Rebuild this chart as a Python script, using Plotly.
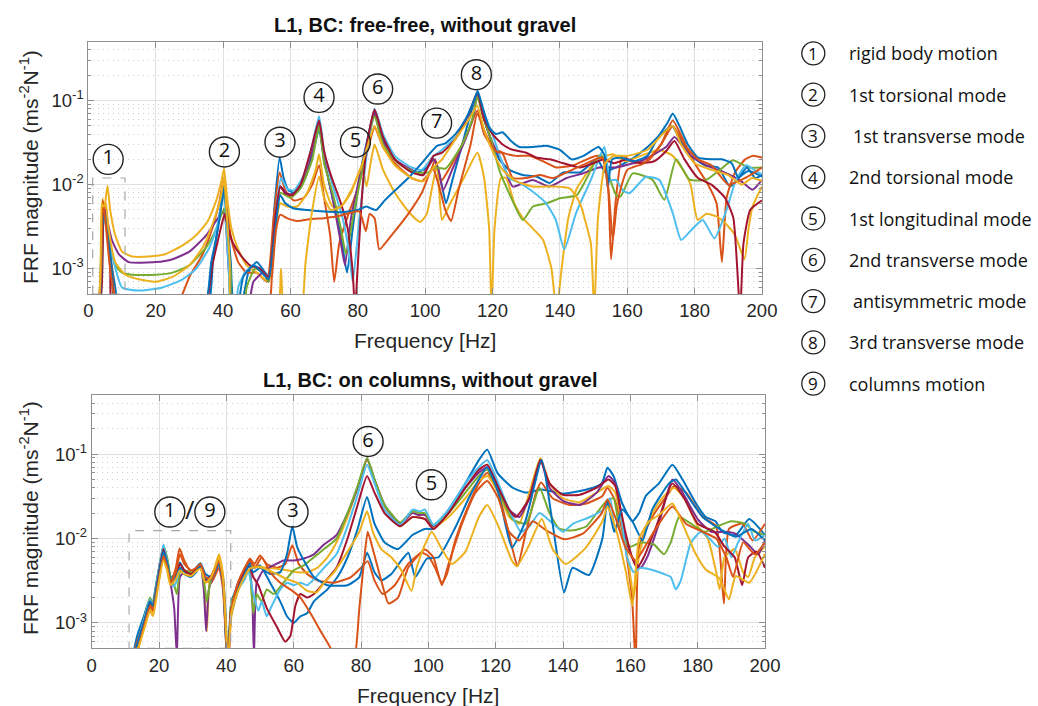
import plotly.graph_objects as go

W, H = 1038, 706

# ---------------- data: top panel (free-free), (frequency Hz, FRF magnitude) ----------------
top_blue = [(0,0.0003),(3.0,0.0004),(4.0,0.003),(4.8,0.005),(5.4,0.0042),(6.5,0.0015),(8.0,0.0006),(9.5,0.0003),(35.0,0.0003),(37.0,0.0012),(38.8,0.004),(40.3,0.0098),(41.2,0.004),(42.3,0.0012),(43.2,0.0004),(45.5,0.0004),(47.5,0.0009),(50.0,0.0012),(52.5,0.0009),(53.8,0.0008),(55.2,0.005),(56.8,0.021),(58.0,0.012),(59.5,0.0085),(61.5,0.008),(64.0,0.011),(66.5,0.022),(68.5,0.046),(70.0,0.02),(72.5,0.007),(75.0,0.0025),(76.8,0.0009),(78.5,0.003),(80.5,0.012),(82.5,0.03),(85.0,0.075),(87.0,0.04),(90.0,0.022),(94.0,0.016),(97.5,0.014),(100.5,0.016),(102.5,0.02),(104.5,0.012),(106.2,0.006),(108.0,0.011),(111.0,0.03),(113.5,0.07),(115.5,0.12),(117.0,0.07),(119.5,0.035),(122.0,0.02),(125.0,0.015),(129.0,0.013),(133.0,0.0125),(137.0,0.0105),(141.0,0.014),(146.0,0.014),(151.0,0.02),(153.5,0.014),(155.0,0.015),(158.0,0.017),(162.0,0.021),(166.0,0.028),(170.0,0.04),(173.3,0.05),(175.5,0.035),(179.0,0.022),(183.0,0.017),(187.0,0.016),(190.5,0.0095),(193.0,0.012),(196.0,0.0145),(200.0,0.0125)]
top_orange = [(0,0.0003),(3.5,0.0005),(4.2,0.006),(4.8,0.0055),(5.5,0.003),(7.0,0.001),(8.5,0.0004),(26.5,0.0004),(30.0,0.0008),(34.0,0.0015),(37.0,0.0032),(39.0,0.0065),(40.2,0.012),(41.0,0.006),(42.5,0.0022),(44.5,0.0012),(47.0,0.0009),(50.0,0.0009),(53.0,0.0007),(55.0,0.004),(56.8,0.014),(58.5,0.0085),(61.0,0.0065),(64.0,0.007),(66.5,0.01),(68.5,0.017),(70.0,0.007),(71.8,0.0025),(73.0,0.0007),(74.5,0.002),(77.0,0.0042),(80.0,0.009),(82.5,0.022),(85.0,0.048),(87.5,0.028),(91.0,0.018),(96.0,0.012),(99.0,0.011),(101.5,0.014),(103.0,0.02),(104.7,0.011),(106.5,0.014),(110.0,0.025),(113.0,0.045),(115.5,0.076),(117.5,0.04),(120.0,0.028),(123.0,0.024),(127.0,0.022),(131.0,0.022),(135.0,0.019),(139.0,0.016),(144.0,0.017),(148.0,0.02),(151.0,0.022),(153.5,0.02),(155.2,0.0013),(156.5,0.006),(158.6,0.022),(162.0,0.018),(166.0,0.019),(170.0,0.03),(173.5,0.058),(176.5,0.035),(180.0,0.018),(184.0,0.01),(186.5,0.006),(188.1,0.0012),(189.5,0.007),(192.0,0.014),(195.0,0.02),(197.2,0.022),(200.0,0.021)]
top_yellow = [(0,0.0003),(3.2,0.0005),(4.2,0.0068),(4.7,0.005),(5.7,0.0097),(6.5,0.005),(8.0,0.0025),(10.0,0.0016),(13.0,0.0014),(18.0,0.0014),(23.0,0.0015),(28.0,0.0019),(32.0,0.0025),(35.5,0.0037),(38.0,0.0065),(39.5,0.011),(40.3,0.0155),(41.2,0.007),(42.5,0.003),(44.5,0.0017),(47.0,0.0011),(50.0,0.0009),(53.5,0.0007),(55.5,0.003),(57.0,0.006),(59.0,0.0055),(62.0,0.0055),(65.0,0.008),(67.5,0.015),(68.5,0.023),(70.0,0.01),(72.5,0.0055),(75.0,0.0055),(78.0,0.008),(81.2,0.017),(82.6,0.0095),(83.8,0.018),(85.0,0.03),(87.5,0.015),(91.0,0.008),(95.0,0.0048),(98.5,0.0036),(100.5,0.0045),(102.0,0.009),(103.5,0.017),(104.2,0.008),(105.0,0.0038),(107.0,0.0055),(108.5,0.0072),(111.5,0.012),(115.5,0.024),(117.5,0.012),(119.0,0.003),(119.7,0.0003),(120.6,0.003),(122.5,0.012),(124.0,0.012),(126.5,0.006),(129.0,0.004),(132.0,0.003),(135.0,0.0022),(137.5,0.001),(139.0,0.0003),(140.5,0.001),(142.5,0.004),(145.0,0.009),(147.0,0.012),(150.0,0.018),(152.5,0.021),(155.7,0.023),(159.6,0.019),(164.0,0.022),(169.5,0.026),(173.5,0.022),(177.0,0.014),(178.8,0.01),(180.9,0.0038),(183.5,0.0045),(186.5,0.0042),(189.3,0.0034),(192.0,0.0025),(194.8,0.0013),(196.0,0.003),(197.2,0.0055),(200.0,0.0095)]
top_purple = [(0,0.0003),(3.3,0.0004),(4.3,0.004),(5.0,0.005),(5.8,0.0035),(7.0,0.0022),(9.0,0.0015),(12.0,0.0012),(20.0,0.0012),(25.0,0.0013),(30.0,0.0016),(35.0,0.0025),(37.5,0.0035),(39.5,0.0045),(40.4,0.0046),(41.2,0.002),(42.0,0.0006),(42.5,0.0003),(47.0,0.0003),(49.0,0.0007),(52.0,0.0009),(53.5,0.0007),(55.5,0.004),(57.0,0.0095),(59.0,0.0078),(61.0,0.0078),(64.0,0.012),(66.5,0.025),(68.5,0.052),(70.0,0.02),(72.5,0.007),(75.0,0.002),(76.2,0.0011),(78.0,0.004),(81.0,0.015),(83.0,0.035),(85.0,0.07),(87.0,0.035),(91.0,0.02),(96.0,0.015),(99.0,0.013),(102.5,0.02),(104.0,0.015),(105.3,0.0085),(108.0,0.015),(112.0,0.035),(114.5,0.07),(115.5,0.12),(117.0,0.07),(119.6,0.034),(123.0,0.018),(126.0,0.0095),(131.9,0.0114),(136.8,0.0095),(142.0,0.012),(146.8,0.0136),(151.7,0.016),(156.7,0.016),(164.6,0.0195),(171.5,0.028),(174.0,0.037),(178.4,0.023),(183.4,0.017),(188.0,0.0145),(193.3,0.0114),(197.2,0.0087),(200.0,0.0114)]
top_green = [(0,0.0003),(3.4,0.0004),(4.4,0.0045),(5.2,0.004),(6.2,0.002),(8.0,0.0011),(10.0,0.0009),(13.0,0.00085),(20.0,0.00085),(25.0,0.0009),(30.0,0.0011),(35.0,0.0018),(38.0,0.003),(40.3,0.0052),(41.0,0.003),(42.3,0.0009),(43.0,0.0003),(46.0,0.0003),(47.0,0.0006),(49.5,0.001),(52.0,0.0009),(53.5,0.0007),(55.5,0.0035),(57.0,0.008),(60.0,0.007),(63.0,0.009),(66.5,0.02),(68.5,0.05),(70.0,0.018),(72.5,0.008),(75.0,0.003),(76.5,0.0015),(79.0,0.005),(82.0,0.02),(85.0,0.065),(87.5,0.03),(92.0,0.018),(97.0,0.014),(101.0,0.014),(103.0,0.016),(106.0,0.0155),(111.0,0.03),(114.0,0.06),(115.5,0.11),(117.5,0.06),(119.5,0.035),(122.0,0.015),(125.0,0.0078),(129.0,0.0038),(132.0,0.0055),(136.0,0.006),(140.0,0.0069),(145.0,0.0075),(150.7,0.0195),(152.2,0.023),(154.0,0.015),(156.7,0.0075),(158.0,0.0072),(161.6,0.0136),(167.5,0.0114),(171.0,0.0066),(174.5,0.02),(178.5,0.0115),(183.4,0.0114),(187.5,0.015),(191.3,0.0195),(196.0,0.016),(200.0,0.016)]
top_cyan = [(0,0.0003),(3.2,0.0004),(4.5,0.004),(5.5,0.003),(7.0,0.0015),(10.0,0.0006),(15.0,0.00055),(22.0,0.0006),(28.0,0.00075),(32.0,0.001),(36.0,0.0018),(38.5,0.0035),(40.3,0.008),(41.0,0.003),(41.8,0.0008),(42.3,0.0003),(43.5,0.0003),(44.5,0.0006),(46.5,0.0009),(49.0,0.0011),(51.0,0.001),(53.5,0.0008),(56.0,0.006),(57.2,0.012),(59.0,0.009),(61.0,0.0085),(64.0,0.013),(66.5,0.03),(68.5,0.065),(70.0,0.025),(72.5,0.01),(75.5,0.004),(77.5,0.0015),(78.5,0.0007),(80.5,0.004),(83.0,0.03),(85.0,0.08),(87.5,0.04),(91.0,0.022),(96.0,0.016),(99.0,0.015),(102.5,0.022),(104.5,0.025),(110.0,0.04),(113.5,0.08),(115.5,0.125),(117.5,0.07),(120.0,0.04),(122.5,0.02),(125.0,0.012),(128.0,0.0105),(131.9,0.0083),(135.9,0.006),(138.8,0.0038),(141.3,0.0017),(144.8,0.0046),(149.2,0.0114),(153.2,0.028),(154.9,0.0114),(156.7,0.0114),(158.6,0.0086),(160.6,0.0079),(165.6,0.0124),(169.5,0.0114),(173.5,0.0046),(176.0,0.0022),(179.4,0.003),(182.4,0.0038),(185.9,0.0023),(189.3,0.0048),(192.3,0.0114),(195.3,0.017),(198.2,0.0145),(200.0,0.0133)]
top_darkred = [(0,0.0003),(3.5,0.0004),(4.6,0.0045),(5.3,0.004),(6.5,0.001),(7.5,0.0003),(34.0,0.0003),(37.0,0.0012),(39.3,0.003),(40.5,0.0045),(41.5,0.003),(43.0,0.002),(45.5,0.0014),(48.0,0.0011),(51.0,0.001),(53.5,0.0008),(55.5,0.004),(57.0,0.0095),(58.5,0.0078),(60.5,0.0075),(63.0,0.01),(66.0,0.025),(68.5,0.058),(70.0,0.025),(72.0,0.013),(75.0,0.006),(77.0,0.003),(78.5,0.0009),(79.2,0.0003),(79.8,0.0008),(81.5,0.01),(83.0,0.035),(85.0,0.078),(87.5,0.037),(91.0,0.02),(96.0,0.014),(99.5,0.013),(102.5,0.022),(105.0,0.024),(109.0,0.035),(113.0,0.07),(115.5,0.125),(117.5,0.06),(120.0,0.04),(123.0,0.03),(126.0,0.026),(130.0,0.024),(133.0,0.021),(137.0,0.02),(141.0,0.018),(146.0,0.016),(150.0,0.018),(153.0,0.02),(156.0,0.018),(160.0,0.02),(164.0,0.018),(168.0,0.019),(171.5,0.025),(174.0,0.033),(177.0,0.02),(181.0,0.012),(185.0,0.01),(189.0,0.007),(191.5,0.004),(193.5,0.0003),(194.5,0.002),(196.5,0.005),(200.0,0.0065)]
top_blue2 = [(0,0.0003),(3.2,0.0004),(4.3,0.0035),(5.0,0.0045),(5.8,0.003),(7.0,0.0009),(8.5,0.0003),(34.0,0.0003),(36.5,0.0012),(38.5,0.003),(40.3,0.0085),(41.2,0.004),(42.0,0.0012),(42.7,0.0003),(44.0,0.0003),(46.0,0.0008),(49.0,0.0011),(51.5,0.0009),(53.5,0.00075),(55.5,0.003),(57.0,0.0075),(58.5,0.006),(61.0,0.0052),(65.0,0.005),(70.0,0.0048),(75.0,0.0047),(80.0,0.005),(82.5,0.0055),(84.0,0.0052),(85.5,0.005),(88.0,0.0065),(91.0,0.0085),(95.0,0.012),(99.0,0.018),(102.0,0.025),(103.5,0.029),(106.0,0.031),(109.0,0.04),(112.0,0.06),(114.5,0.1),(115.6,0.13),(117.0,0.085),(119.0,0.048),(121.0,0.04),(123.0,0.042),(125.5,0.033),(128.0,0.028),(132.0,0.028),(136.0,0.029),(140.0,0.026),(143.5,0.02),(147.0,0.022),(151.5,0.028),(153.3,0.022),(154.2,0.009),(155.5,0.02),(158.0,0.021),(162.0,0.019),(166.0,0.022),(169.0,0.036),(172.0,0.055),(173.5,0.07),(175.5,0.05),(178.0,0.03),(181.0,0.021),(185.0,0.02),(188.0,0.02),(191.0,0.018),(193.0,0.012),(195.5,0.016),(198.0,0.012),(200.0,0.013)]
top_orange2 = [(0,0.0003),(3.3,0.0005),(4.3,0.0065),(5.0,0.004),(6.0,0.0015),(7.5,0.0005),(9.0,0.0003),(53.0,0.0003),(54.5,0.0008),(55.8,0.003),(57.0,0.0044),(59.0,0.004),(62.0,0.0037),(66.0,0.0039),(70.0,0.004),(74.0,0.0042),(77.5,0.0046),(80.5,0.0048),(82.4,0.0028),(83.5,0.0045),(85.0,0.004),(86.4,0.0017),(90.0,0.0025),(95.0,0.0045),(99.0,0.008),(102.2,0.016),(104.0,0.01),(106.0,0.005),(107.7,0.0037),(110.0,0.009),(113.5,0.03),(115.5,0.07),(118.0,0.04),(121.0,0.025),(123.0,0.0235),(126.0,0.012),(130.0,0.012),(134.0,0.013),(138.0,0.012),(142.0,0.014),(148.0,0.018),(152.5,0.021),(154.5,0.008),(155.7,0.0022),(157.0,0.006),(160.0,0.015),(165.0,0.018),(170.0,0.03),(173.5,0.05),(177.0,0.03),(181.0,0.02),(185.0,0.017),(190.0,0.01),(195.0,0.012),(200.0,0.016)]
top_yellow2 = [(0,0.0003),(3.0,0.0004),(4.0,0.006),(4.5,0.0055),(5.2,0.006),(6.0,0.003),(8.0,0.0012),(11.0,0.00085),(15.0,0.00075),(20.0,0.0007),(25.0,0.0008),(30.0,0.0011),(34.0,0.0018),(37.0,0.0035),(39.3,0.007),(40.3,0.012),(41.0,0.005),(42.0,0.0012),(42.8,0.0003),(56.0,0.0003),(57.2,0.001),(58.3,0.0003),(63.0,0.0003),(64.5,0.0012),(66.5,0.005),(68.5,0.0125),(70.0,0.007),(72.0,0.005),(75.0,0.0055),(78.0,0.0085),(81.0,0.016),(83.0,0.03),(85.0,0.05),(87.5,0.028),(91.0,0.017),(96.0,0.012),(99.5,0.011),(102.5,0.016),(105.0,0.02),(109.0,0.035),(113.0,0.06),(115.5,0.087),(117.5,0.045),(120.0,0.025),(123.0,0.015),(127.0,0.011),(132.0,0.0095),(138.0,0.0095),(143.0,0.009),(146.0,0.006),(147.7,0.0035),(149.2,0.002),(150.2,0.0003),(151.3,0.004),(153.5,0.018),(156.0,0.022),(160.0,0.022),(166.0,0.026),(171.0,0.042),(173.5,0.05),(176.0,0.03),(180.0,0.018),(185.0,0.015),(190.0,0.013),(194.0,0.01),(197.0,0.012),(200.0,0.011)]

# ---------------- data: bottom panel (on columns) ----------------
bot_blue = [(11.5,0.0003),(13.5,0.0007),(15.5,0.0012),(17.2,0.0019),(18.0,0.0017),(19.5,0.0035),(21.3,0.0078),(22.5,0.0055),(23.5,0.0035),(25.0,0.0038),(26.2,0.0052),(27.5,0.0042),(29.5,0.0038),(31.0,0.0045),(32.3,0.0051),(33.8,0.0038),(35.5,0.0035),(37.8,0.0052),(39.0,0.0035),(39.8,0.0012),(40.4,0.0003),(41.5,0.0018),(43.5,0.0028),(45.5,0.0042),(46.8,0.0055),(48.0,0.0045),(50.0,0.0048),(53.0,0.003),(56.0,0.0018),(58.0,0.0012),(60.0,0.001),(62.0,0.0012),(64.0,0.0013),(66.0,0.0018),(70.0,0.0025),(73.0,0.0035),(76.0,0.006),(79.0,0.013),(81.8,0.031),(84.0,0.015),(87.0,0.009),(91.0,0.0075),(95.3,0.011),(99.0,0.013),(101.5,0.013),(106.0,0.022),(111.0,0.045),(115.0,0.085),(117.5,0.113),(120.5,0.06),(125.0,0.04),(129.0,0.035),(133.7,0.038),(137.0,0.036),(140.0,0.034),(147.0,0.038),(151.5,0.045),(153.2,0.069),(155.0,0.055),(157.6,0.026),(160.6,0.016),(162.6,0.02),(164.6,0.032),(168.5,0.045),(172.5,0.075),(175.5,0.05),(179.5,0.026),(182.4,0.018),(185.3,0.016),(187.3,0.012),(191.3,0.011),(195.3,0.017),(200.0,0.011)]
bot_orange = [(11.5,0.0003),(13.5,0.0006),(15.5,0.001),(17.2,0.0017),(18.0,0.0015),(19.5,0.003),(21.3,0.0068),(22.5,0.0045),(23.5,0.003),(25.0,0.0045),(26.1,0.0076),(27.5,0.0055),(29.5,0.004),(31.0,0.0042),(32.3,0.0047),(33.8,0.0032),(35.5,0.003),(37.8,0.0045),(39.0,0.0025),(39.9,0.0006),(40.5,0.0003),(41.4,0.0015),(43.5,0.003),(45.5,0.0045),(47.0,0.0058),(48.3,0.005),(50.0,0.0063),(52.0,0.005),(55.0,0.0045),(57.5,0.005),(59.6,0.0083),(61.5,0.005),(64.0,0.0038),(67.0,0.0032),(72.0,0.003),(77.0,0.0035),(80.0,0.0045),(82.0,0.0054),(84.0,0.0032),(86.5,0.0022),(90.0,0.0028),(94.0,0.005),(98.0,0.0068),(100.0,0.0062),(102.0,0.0045),(104.0,0.003),(105.5,0.0038),(108.0,0.0095),(112.0,0.025),(115.0,0.045),(117.5,0.06),(120.8,0.035),(124.8,0.0081),(126.5,0.0047),(129.0,0.012),(132.0,0.035),(133.5,0.046),(136.9,0.03),(142.0,0.025),(147.0,0.026),(151.7,0.032),(153.2,0.04),(155.5,0.028),(158.5,0.008),(160.5,0.002),(161.6,0.0003),(162.6,0.008),(166.5,0.018),(171.5,0.035),(173.0,0.042),(176.5,0.035),(181.5,0.018),(185.5,0.014),(187.8,0.0017),(189.3,0.013),(193.3,0.015),(196.3,0.0095),(200.0,0.015)]
bot_yellow = [(11.8,0.0003),(13.8,0.0005),(15.8,0.001),(17.3,0.0015),(18.2,0.0013),(19.6,0.0028),(21.3,0.0062),(22.4,0.0045),(23.4,0.0028),(25.0,0.0036),(26.2,0.0045),(27.5,0.004),(29.5,0.0038),(31.0,0.0042),(32.3,0.0045),(33.5,0.0025),(34.2,0.0008),(35.0,0.003),(36.5,0.0045),(37.8,0.0065),(39.0,0.0038),(40.0,0.0007),(40.5,0.0003),(41.5,0.0012),(43.5,0.0025),(45.5,0.004),(47.0,0.0048),(49.0,0.0047),(52.0,0.0045),(55.0,0.0044),(58.0,0.0042),(61.0,0.004),(64.0,0.004),(67.0,0.0045),(70.0,0.006),(73.0,0.0095),(76.0,0.018),(79.0,0.04),(81.8,0.085),(84.0,0.05),(87.0,0.024),(91.6,0.014),(95.3,0.018),(99.0,0.017),(101.5,0.0135),(106.0,0.018),(111.0,0.03),(115.0,0.048),(117.5,0.055),(120.8,0.035),(124.0,0.018),(127.0,0.015),(130.0,0.035),(133.3,0.09),(136.0,0.045),(140.0,0.03),(145.0,0.027),(150.0,0.035),(153.5,0.042),(155.5,0.035),(157.5,0.015),(159.5,0.005),(161.0,0.002),(162.5,0.006),(165.0,0.015),(168.0,0.025),(171.0,0.035),(173.0,0.04),(176.0,0.03),(180.0,0.014),(183.0,0.01),(185.5,0.004),(186.5,0.0025),(188.0,0.006),(191.0,0.0075),(193.5,0.004),(195.0,0.0035),(197.0,0.006),(200.0,0.008)]
bot_purple = [(11.8,0.0003),(13.8,0.0006),(15.8,0.0011),(17.3,0.0018),(18.2,0.0016),(19.6,0.0033),(21.3,0.0078),(22.4,0.005),(23.4,0.003),(24.5,0.0015),(25.3,0.0004),(26.2,0.0035),(27.5,0.004),(29.5,0.0038),(31.0,0.0042),(32.3,0.0048),(33.3,0.0025),(34.0,0.0008),(34.8,0.0025),(36.0,0.0035),(37.8,0.005),(39.0,0.003),(40.0,0.0005),(40.5,0.0003),(41.5,0.0015),(43.5,0.003),(45.5,0.004),(46.8,0.0048),(47.7,0.002),(48.2,0.0004),(49.0,0.003),(51.0,0.0042),(54.0,0.0048),(57.0,0.0055),(60.0,0.0055),(63.0,0.0058),(66.0,0.0065),(69.0,0.0085),(72.7,0.011),(76.0,0.02),(79.0,0.04),(81.8,0.088),(84.0,0.05),(87.0,0.025),(91.6,0.015),(95.3,0.02),(97.0,0.019),(99.0,0.019),(101.5,0.014),(106.0,0.02),(111.0,0.04),(115.0,0.06),(117.5,0.07),(120.8,0.04),(124.0,0.022),(127.0,0.018),(130.0,0.03),(133.3,0.085),(136.0,0.04),(140.0,0.028),(145.0,0.025),(150.0,0.035),(153.5,0.055),(155.5,0.045),(158.5,0.01),(161.0,0.0055),(163.0,0.0045),(165.0,0.006),(168.5,0.015),(172.5,0.05),(175.5,0.035),(180.0,0.017),(184.0,0.012),(188.0,0.012),(191.0,0.0115),(195.0,0.0085),(198.0,0.0065),(200.0,0.0095)]
bot_green = [(11.8,0.0003),(13.8,0.0006),(15.8,0.0012),(17.3,0.002),(18.2,0.0017),(19.6,0.0035),(21.3,0.0082),(22.4,0.006),(23.4,0.0035),(24.5,0.0028),(25.3,0.0022),(26.2,0.004),(27.5,0.0042),(29.5,0.004),(31.0,0.0043),(32.3,0.0049),(33.5,0.0028),(34.2,0.0018),(35.2,0.003),(36.5,0.004),(37.8,0.0055),(39.0,0.0032),(40.0,0.0006),(40.5,0.0003),(41.4,0.0016),(43.5,0.0028),(45.5,0.0035),(46.8,0.0042),(48.0,0.0013),(49.0,0.0022),(50.5,0.0018),(52.0,0.0025),(54.0,0.0022),(57.0,0.003),(60.0,0.0042),(63.0,0.0048),(66.0,0.006),(69.0,0.0075),(72.7,0.0099),(76.0,0.02),(79.0,0.042),(81.8,0.09),(84.0,0.05),(87.0,0.025),(91.6,0.0155),(95.3,0.021),(97.5,0.02),(99.0,0.02),(101.5,0.0145),(106.0,0.02),(111.0,0.035),(115.0,0.055),(117.5,0.065),(121.0,0.035),(125.0,0.017),(129.0,0.015),(133.0,0.04),(136.0,0.02),(139.0,0.013),(143.0,0.0125),(147.0,0.014),(150.0,0.02),(153.0,0.028),(155.0,0.03),(157.0,0.012),(160.0,0.008),(163.0,0.009),(167.0,0.0085),(170.0,0.0065),(172.0,0.009),(174.5,0.018),(178.0,0.015),(182.0,0.012),(186.0,0.014),(190.0,0.016),(194.0,0.015),(197.0,0.012),(200.0,0.011)]
bot_cyan = [(11.8,0.0003),(13.8,0.0006),(15.8,0.0012),(17.3,0.0019),(18.2,0.0016),(19.6,0.0035),(21.3,0.0085),(22.4,0.0055),(23.4,0.003),(24.3,0.0027),(25.3,0.0032),(26.2,0.0045),(27.5,0.0038),(29.5,0.0036),(31.0,0.0042),(32.3,0.0046),(33.5,0.0035),(34.3,0.0032),(35.5,0.0035),(37.8,0.0052),(39.0,0.003),(40.0,0.0005),(40.5,0.0003),(41.4,0.0013),(43.5,0.0025),(45.5,0.0033),(46.5,0.0042),(48.0,0.0022),(49.5,0.0014),(50.5,0.0018),(52.0,0.0012),(53.5,0.0016),(56.0,0.0025),(58.0,0.003),(60.0,0.0028),(62.0,0.003),(64.0,0.0028),(66.0,0.0033),(69.0,0.0045),(72.7,0.0065),(76.0,0.014),(79.0,0.033),(81.8,0.075),(84.0,0.045),(87.0,0.022),(91.6,0.0145),(95.3,0.022),(97.5,0.021),(99.0,0.022),(101.5,0.0145),(106.0,0.022),(111.0,0.045),(115.0,0.07),(117.5,0.085),(120.8,0.045),(124.0,0.022),(127.5,0.012),(130.0,0.014),(133.0,0.02),(137.0,0.015),(140.0,0.012),(143.0,0.015),(148.0,0.018),(152.0,0.022),(154.0,0.03),(155.5,0.012),(157.0,0.02),(159.0,0.006),(161.0,0.004),(163.0,0.0045),(166.0,0.0043),(170.0,0.0038),(172.0,0.0035),(173.5,0.0025),(175.0,0.0032),(178.0,0.009),(181.0,0.012),(183.5,0.01),(186.0,0.008),(188.0,0.01),(190.0,0.006),(192.0,0.009),(195.0,0.015),(197.0,0.0095),(200.0,0.011)]
bot_darkred = [(11.8,0.0003),(13.8,0.0006),(15.8,0.0011),(17.3,0.0018),(18.2,0.0016),(19.6,0.0032),(21.3,0.0075),(22.4,0.005),(23.4,0.003),(25.0,0.0038),(26.2,0.005),(27.5,0.0042),(29.5,0.0038),(31.0,0.0043),(32.3,0.0049),(33.8,0.0032),(35.5,0.0036),(37.8,0.0055),(39.0,0.0032),(40.0,0.0006),(40.5,0.0003),(41.4,0.0014),(43.5,0.0028),(45.5,0.0042),(46.8,0.005),(48.0,0.0035),(49.5,0.0028),(52.0,0.0015),(55.0,0.0009),(57.5,0.0006),(59.0,0.0007),(60.5,0.0016),(62.0,0.0022),(64.0,0.002),(66.0,0.0022),(69.0,0.003),(72.7,0.0045),(76.0,0.01),(79.0,0.025),(81.8,0.055),(84.0,0.035),(87.0,0.02),(91.6,0.014),(95.3,0.018),(99.0,0.017),(101.5,0.013),(106.0,0.02),(111.0,0.04),(115.0,0.065),(117.5,0.075),(120.8,0.04),(124.0,0.022),(126.0,0.018),(130.0,0.03),(133.3,0.085),(136.0,0.045),(140.0,0.033),(145.0,0.033),(150.0,0.04),(153.5,0.05),(155.5,0.042),(158.5,0.012),(160.5,0.006),(162.0,0.0045),(164.0,0.006),(168.0,0.015),(172.5,0.045),(176.0,0.03),(180.0,0.015),(185.0,0.012),(188.0,0.008),(191.0,0.006),(193.2,0.0028),(195.0,0.006),(197.5,0.007),(200.0,0.0045)]
bot_blue2 = [(11.8,0.0003),(13.8,0.0006),(15.8,0.0011),(17.3,0.0018),(18.2,0.0016),(19.6,0.003),(21.3,0.007),(22.5,0.005),(23.5,0.0032),(25.0,0.0035),(26.2,0.0045),(27.5,0.0038),(29.5,0.0035),(31.0,0.004),(32.3,0.0048),(33.8,0.0034),(35.5,0.0033),(37.8,0.005),(39.0,0.003),(39.8,0.0008),(40.4,0.0003),(41.3,0.0012),(43.5,0.0025),(45.5,0.0038),(46.8,0.005),(48.0,0.004),(50.0,0.0045),(53.0,0.0038),(56.0,0.004),(58.0,0.0065),(59.6,0.0139),(61.0,0.008),(62.5,0.006),(66.0,0.0035),(70.0,0.0028),(76.0,0.0028),(79.5,0.0035),(81.8,0.0068),(84.0,0.004),(86.0,0.0032),(89.0,0.0038),(92.0,0.0055),(94.1,0.0068),(96.1,0.0035),(99.6,0.0058),(103.0,0.006),(108.0,0.0135),(112.0,0.03),(115.0,0.05),(117.4,0.07),(120.8,0.035),(124.8,0.0078),(128.8,0.016),(133.7,0.085),(136.9,0.015),(140.3,0.0023),(142.8,0.0045),(147.7,0.0037),(151.7,0.01),(153.2,0.028),(155.2,0.012),(157.6,0.022),(160.6,0.016),(163.6,0.0095),(166.5,0.022),(171.5,0.045),(173.5,0.05),(177.5,0.03),(181.5,0.018),(186.5,0.013),(191.3,0.0105),(196.0,0.013),(200.0,0.0095)]
bot_orange2 = [(11.8,0.0003),(13.8,0.0005),(15.8,0.001),(17.4,0.0016),(18.2,0.0014),(19.7,0.0028),(21.3,0.0062),(22.5,0.0045),(23.5,0.003),(25.0,0.004),(26.2,0.0065),(27.5,0.005),(29.5,0.0042),(31.0,0.0045),(32.3,0.005),(33.8,0.0035),(35.5,0.0033),(37.8,0.0055),(39.0,0.003),(39.9,0.0007),(40.5,0.0003),(41.4,0.0014),(43.5,0.003),(45.5,0.0045),(47.0,0.0055),(48.5,0.0045),(50.5,0.006),(53.0,0.004),(56.0,0.003),(59.0,0.0025),(62.0,0.002),(65.0,0.0013),(68.0,0.0008),(71.0,0.0005),(73.0,0.0003),(77.5,0.0003),(79.5,0.0015),(81.0,0.006),(82.0,0.012),(83.5,0.0075),(86.0,0.0032),(88.2,0.0017),(91.0,0.002),(94.0,0.0045),(99.0,0.0074),(101.5,0.006),(104.0,0.0028),(106.0,0.005),(110.0,0.015),(114.0,0.035),(117.5,0.048),(120.8,0.03),(124.0,0.012),(127.0,0.0095),(131.0,0.016),(135.0,0.0125),(140.5,0.0098),(146.0,0.0115),(151.5,0.02),(153.2,0.029),(155.5,0.018),(158.5,0.008),(161.5,0.0055),(163.5,0.007),(167.5,0.013),(172.5,0.024),(176.5,0.015),(181.5,0.012),(185.5,0.01),(188.5,0.006),(190.5,0.0035),(193.5,0.009),(197.0,0.0065),(200.0,0.009)]
bot_yellow2 = [(11.8,0.0003),(13.8,0.0005),(15.8,0.0009),(17.3,0.0014),(18.2,0.0012),(19.6,0.0025),(21.3,0.0055),(22.4,0.0042),(23.4,0.0028),(25.0,0.0033),(26.2,0.0042),(27.5,0.0038),(29.5,0.0036),(31.0,0.0041),(32.3,0.0044),(33.8,0.003),(35.5,0.0035),(37.8,0.006),(39.0,0.0035),(40.0,0.0007),(40.5,0.0003),(41.5,0.0013),(43.5,0.0024),(45.5,0.0036),(47.0,0.0044),(49.0,0.0046),(52.0,0.0043),(55.0,0.0038),(58.0,0.0033),(61.0,0.003),(64.0,0.0024),(66.8,0.0023),(69.0,0.003),(72.0,0.004),(76.0,0.007),(79.5,0.012),(81.8,0.021),(83.5,0.012),(86.0,0.0075),(89.0,0.006),(92.0,0.0042),(95.0,0.0024),(96.5,0.0045),(99.0,0.0085),(101.0,0.012),(104.0,0.0075),(107.0,0.005),(111.0,0.007),(115.0,0.018),(117.5,0.025),(120.8,0.014),(124.8,0.0055),(126.3,0.0047),(129.7,0.008),(133.7,0.017),(136.9,0.0075),(140.8,0.005),(146.8,0.0078),(151.7,0.016),(153.2,0.024),(155.7,0.013),(158.7,0.004),(160.6,0.0016),(162.6,0.01),(165.6,0.016),(168.5,0.019),(172.5,0.026),(175.5,0.015),(179.4,0.0066),(182.4,0.0043),(186.4,0.0034),(189.3,0.0019),(191.3,0.0036),(195.3,0.003),(200.0,0.0066)]

series_colors = ["#0072BD", "#D95319", "#EDB120", "#7E2F8E", "#77AC30",
                 "#4DBEEE", "#A2142F", "#0072BD", "#D95319", "#EDB120"]
top_series = [top_blue, top_orange, top_yellow, top_purple, top_green,
              top_cyan, top_darkred, top_blue2, top_orange2, top_yellow2]
bot_series = [bot_blue, bot_orange, bot_yellow, bot_purple, bot_green,
              bot_cyan, bot_darkred, bot_blue2, bot_orange2, bot_yellow2]

# mode labels in the charts (frequency, magnitude, label)
top_mode_f = [5.9, 40.4, 56.9, 68.5, 79.3, 85.9, 103.4, 115.2]
top_mode_v = [0.020, 0.0245, 0.032, 0.109, 0.032, 0.137, 0.054, 0.203]
top_mode_txt = ["1", "2", "3", "4", "5", "6", "7", "8"]
bot_mode_f = [23.2, 35.1, 59.8, 82.1, 100.9]
bot_mode_v = [0.0206, 0.0206, 0.0206, 0.141, 0.0433]
bot_mode_txt = ["1", "9", "3", "6", "5"]

mode_names = ["rigid body motion", "1st torsional mode", "1st transverse mode",
              "2nd torsional mode", "1st longitudinal mode", "2nd transverse mode",
              "antisymmetric mode", "3rd transverse mode", "columns motion"]

x_ticks = [0, 20, 40, 60, 80, 100, 120, 140, 160, 180, 200]
y_ticks = [0.001, 0.01, 0.1]
y_ticktext = ["10<sup>-3</sup>", "10<sup>-2</sup>", "10<sup>-1</sup>"]
y_minor = [m * 10.0 ** e for e in (-4, -3, -2, -1) for m in range(2, 10)]

# ---------------- figure ----------------
fig = go.Figure()
for s, c in zip(top_series, series_colors):
    fig.add_trace(go.Scatter(x=[p[0] for p in s], y=[p[1] for p in s], mode="lines",
                             line=dict(color=c, width=2, shape="spline", smoothing=0.5),
                             xaxis="x", yaxis="y", showlegend=False, hoverinfo="skip"))
for s, c in zip(bot_series, series_colors):
    fig.add_trace(go.Scatter(x=[p[0] for p in s], y=[p[1] for p in s], mode="lines",
                             line=dict(color=c, width=2, shape="spline", smoothing=0.5),
                             xaxis="x2", yaxis="y2", showlegend=False, hoverinfo="skip"))

circ_marker = dict(symbol="circle-open", size=30, color="#222222", line=dict(width=1.4, color="#222222"))
lab_font = dict(family="Open Sans, Noto Sans, sans-serif", size=20, color="#111111")
fig.add_trace(go.Scatter(x=top_mode_f, y=top_mode_v, text=top_mode_txt, mode="markers+text",
                         textposition="middle center", marker=circ_marker, textfont=lab_font,
                         xaxis="x", yaxis="y", showlegend=False, cliponaxis=False, hoverinfo="skip"))
fig.add_trace(go.Scatter(x=bot_mode_f, y=bot_mode_v, text=bot_mode_txt, mode="markers+text",
                         textposition="middle center", marker=circ_marker, textfont=lab_font,
                         xaxis="x2", yaxis="y2", showlegend=False, cliponaxis=False, hoverinfo="skip"))
fig.add_trace(go.Scatter(x=[(bot_mode_f[0] + bot_mode_f[1]) / 2], y=[bot_mode_v[0]], text=["/"],
                         mode="text", textposition="middle center",
                         textfont=dict(family="Open Sans, sans-serif", size=26, color="#222222"),
                         xaxis="x2", yaxis="y2", showlegend=False, hoverinfo="skip"))

def px(x):
    return x / W

def py(y):
    return 1 - y / H

axis_line = "#8f8f8f"
grid_major = "#e0e0e0"
grid_minor = "#cfcfcf"
tick_font = dict(family="Liberation Sans, Arial, sans-serif", size=18.5, color="#262626")

def xaxis_cfg(domain, anchor):
    return dict(domain=domain, anchor=anchor, range=[0, 200], tickmode="array", tickvals=x_ticks,
                showgrid=True, gridcolor=grid_major, gridwidth=1, zeroline=False,
                showline=True, linecolor=axis_line, linewidth=1, mirror="allticks",
                ticks="inside", ticklen=6, tickcolor=axis_line, tickfont=tick_font,
                automargin=False, fixedrange=True)

def yaxis_cfg(domain, anchor):
    return dict(domain=domain, anchor=anchor, type="log", range=[-3.3, -0.3],
                tickmode="array", tickvals=y_ticks, ticktext=y_ticktext,
                showgrid=True, gridcolor=grid_major, gridwidth=1, zeroline=False,
                showline=True, linecolor=axis_line, linewidth=1, mirror="allticks",
                ticks="inside", ticklen=6, tickcolor=axis_line, tickfont=tick_font,
                minor=dict(tickmode="array", tickvals=y_minor, ticks="inside", ticklen=3,
                           tickcolor=axis_line, showgrid=True, gridcolor=grid_minor,
                           griddash="1px,4px", gridwidth=1.3),
                automargin=False, fixedrange=True)

fig.update_layout(
    width=W, height=H, margin=dict(l=0, r=0, t=0, b=0),
    paper_bgcolor="white", plot_bgcolor="white", showlegend=False,
    xaxis=xaxis_cfg([px(88.3), px(762)], "y"),
    yaxis=yaxis_cfg([py(294), py(41.7)], "x"),
    xaxis2=xaxis_cfg([px(91.7), px(765)], "y2"),
    yaxis2=yaxis_cfg([py(648.3), py(395)], "x2"),
)

shapes = [
    dict(type="rect", xref="x", yref="y", x0=1.3, x1=10.9, y0=0.0005, y1=0.012,
         line=dict(color="#a8a8a8", width=1.2, dash="dash"), layer="above"),
    dict(type="rect", xref="x2", yref="y2", x0=11.1, x1=41.3, y0=0.0005, y1=0.0124,
         line=dict(color="#a8a8a8", width=1.2, dash="dash"), layer="above"),
]
annotations = []
title_font = dict(family="Liberation Sans, Arial, sans-serif", size=20, color="#111111")
label_font = dict(family="Liberation Sans, Arial, sans-serif", size=21, color="#262626")
annotations.append(dict(text="<b>L1, BC: free-free, without gravel</b>", x=px(425), y=py(25),
                        xref="paper", yref="paper", showarrow=False, font=title_font,
                        xanchor="center", yanchor="middle"))
annotations.append(dict(text="<b>L1, BC: on columns, without gravel</b>", x=px(430), y=py(380),
                        xref="paper", yref="paper", showarrow=False, font=title_font,
                        xanchor="center", yanchor="middle"))
for xc, yc in [(425, 341), (428, 695)]:
    annotations.append(dict(text="Frequency [Hz]", x=px(xc), y=py(yc), xref="paper", yref="paper",
                            showarrow=False, font=label_font, xanchor="center", yanchor="middle"))
for yc in [167, 518]:
    annotations.append(dict(text="FRF magnitude (ms<sup>-2</sup>N<sup>-1</sup>)", x=px(29), y=py(yc),
                            xref="paper", yref="paper", showarrow=False, font=label_font,
                            textangle=-90, xanchor="center", yanchor="middle"))

# right-hand key of mode numbers
key_cx, key_y0, key_dy, key_r = 813.3, 53.3, 41.3, 11.5
for i, name in enumerate(mode_names):
    cy = key_y0 + i * key_dy
    shapes.append(dict(type="circle", xref="paper", yref="paper",
                       x0=px(key_cx - key_r), x1=px(key_cx + key_r),
                       y0=py(cy + key_r), y1=py(cy - key_r),
                       line=dict(color="#222222", width=1.3)))
    annotations.append(dict(text=str(i + 1), x=px(key_cx), y=py(cy), xref="paper", yref="paper",
                            showarrow=False, xanchor="center", yanchor="middle",
                            font=dict(family="Open Sans, sans-serif", size=17, color="#111111")))
    annotations.append(dict(text=name, x=px(847 + (4 if i in (2, 6) else 0)), y=py(cy),
                            xref="paper", yref="paper", showarrow=False,
                            xanchor="left", yanchor="middle",
                            font=dict(family="Open Sans, sans-serif", size=18, color="#111111")))

fig.update_layout(shapes=shapes, annotations=annotations)
fig.write_html("out.html")
